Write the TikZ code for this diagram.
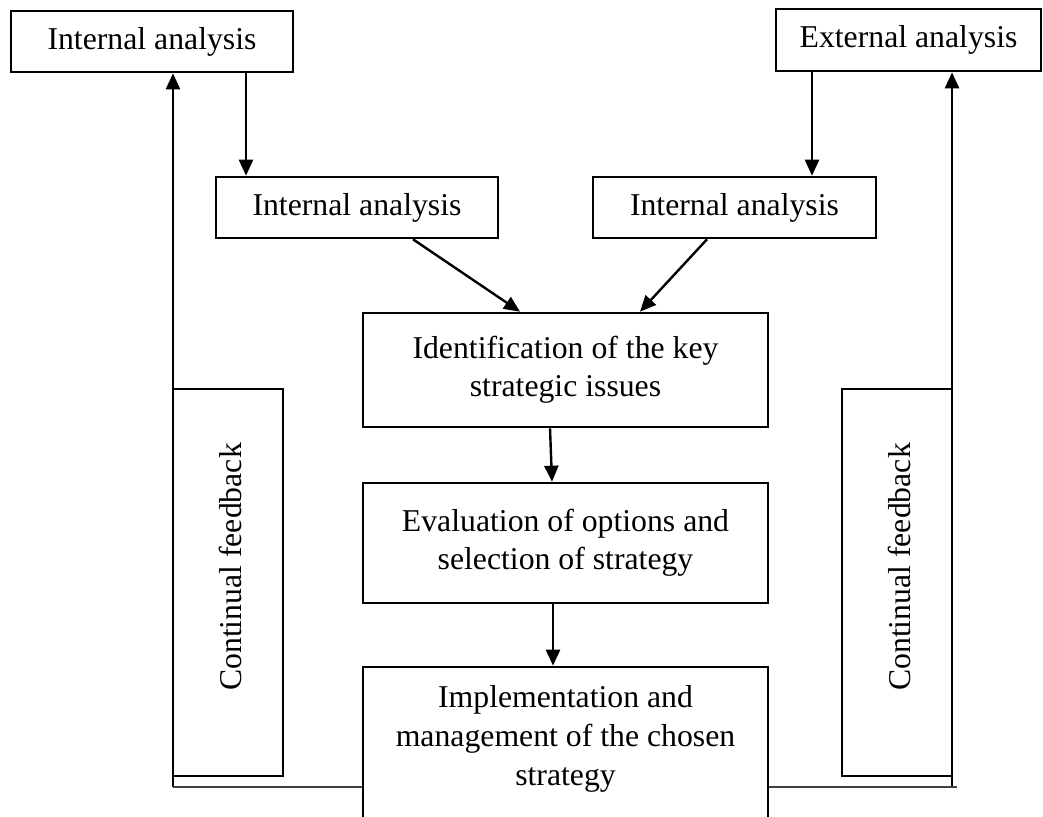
\documentclass[tikz,border=0pt]{standalone}
\usepackage{fontspec}
\setmainfont{Liberation Serif}
\usetikzlibrary{arrows.meta}
\begin{document}
\begin{tikzpicture}[x=1pt,y=-1pt,
  box/.style={draw, line width=2.6pt, inner sep=0pt, align=center,
    font=\fontsize{31.75}{38}\selectfont},
  txt/.style={inner sep=0pt, align=center, font=\fontsize{31.75}{39}\selectfont},
  arr/.style={line width=2.4pt, -{Triangle[length=16pt,width=14pt]}},
  thinln/.style={line width=1.6pt, draw=black!75}]
\useasboundingbox (0,0) rectangle (1043,816);
\clip (0,0) rectangle (1043,816);
% boxes
\node[box, minimum width=282pt, minimum height=61pt] (tl) at (152,41.5) {Internal analysis};
\node[box, minimum width=265pt, minimum height=62pt] (tr) at (908.5,40) {External analysis};
\node[box, minimum width=282pt, minimum height=61pt] (ml) at (357,207.5) {Internal analysis};
\node[box, minimum width=283pt, minimum height=61pt] (mr) at (734.5,207.5) {Internal analysis};
\node[box, minimum width=405pt, minimum height=114pt] (id) at (565.5,370) {Identification of the key\\strategic issues};
\node[box, minimum width=405pt, minimum height=120pt] (ev) at (565.5,543) {Evaluation of options and\\selection of strategy};
\node[box, minimum width=405pt, minimum height=190pt] (im) at (565.5,762) {};
\node[txt, anchor=north] (imt) at (565.5,685) {Implementation and\\management of the chosen\\strategy};
\node[box, minimum width=110pt, minimum height=387pt] (lf) at (228,582.5) {};
\node[box, minimum width=110pt, minimum height=387pt] (rf) at (897,582.5) {};
\node[txt, rotate=90] (lft) at (230,567) {Continual feedback};
\node[txt, rotate=90] (rft) at (899,567) {Continual feedback};
% coordinates for feedback loop
\coordinate (lb) at (173,787);
\coordinate (rb) at (952,787);
\coordinate (rbe) at (957,787);
% connectors
\draw[arr] ([xshift=94pt]tl.south) -- ([xshift=94pt]tl.south |- ml.north);
\draw[arr] ([xshift=-96.5pt]tr.south) -- ([xshift=-96.5pt]tr.south |- mr.north);
\draw[arr] ([xshift=56pt]ml.south) -- ([xshift=-45.5pt]id.north);
\draw[arr] ([xshift=-27.5pt]mr.south) -- ([xshift=74.5pt]id.north);
\draw[arr] ([xshift=-15.5pt]id.south) -- ([xshift=-13.5pt]ev.north);
\draw[arr] ([xshift=-12.5pt]ev.south) -- ([xshift=-12.5pt]im.north);
\draw[arr] (lb) -- (lb |- tl.south);
\draw[arr] (rb) -- (rb |- tr.south);
\draw[thinln] (lb) -- (lb -| im.west);
\draw[thinln] (im.east |- rb) -- (rbe);
\end{tikzpicture}
\end{document}
